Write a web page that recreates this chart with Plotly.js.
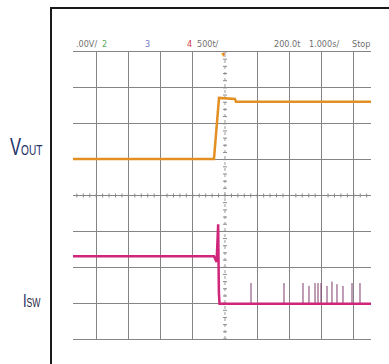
<!DOCTYPE html>
<html>
<head>
<meta charset="utf-8">
<script src="https://cdn.plot.ly/plotly-3.0.1.min.js"></script>
<style>
  html, body { margin: 0; padding: 0; background: #fff; }
  #wrap { position: relative; width: 389px; height: 364px; overflow: hidden; }
  #chart { position: absolute; left: 0; top: 0; width: 389px; height: 364px; }
  #frame { position: absolute; left: 50px; top: 7px; width: 400px; height: 400px;
           border-left: 2px solid #1a1a1a; border-top: 2px solid #1a1a1a; pointer-events: none; }
  .lbl { position: absolute; font-family: 'Liberation Sans', Arial, sans-serif; color: #22306a;
         transform: scaleX(0.72); transform-origin: left bottom; white-space: nowrap; line-height: 1; }
</style>
</head>
<body>
<div id="wrap">
  <div id="chart"></div>
  <div id="frame"></div>
  <div class="lbl" style="left:10px; top:136px; font-size:23px;">V<span style="font-size:14px">OUT</span></div>
  <div class="lbl" style="left:23px; top:292px; font-size:18px;">I<span style="font-size:12px; color:#1e2440">SW</span></div>
</div>
<script>
// ---- data (time in µs at 500 ns/div, amplitude in screen divisions) ----
const voutT   = [-2.36, -0.171, -0.093, 0.155, 0.171, 2.27];
const voutDiv = [1.02, 1.02, 2.72, 2.69, 2.61, 2.61];

const iswT    = [-2.36, -0.171, -0.13, -0.106, -0.095, -0.085, 2.27];
const iswDiv  = [-1.69, -1.69, -1.85, -0.80, -2.70, -3.02, -3.02];

const spikeT   = [0.404, 0.916, 1.211, 1.304, 1.398, 1.444, 1.491, 1.584, 1.661, 1.739, 1.832, 1.972, 2.096];
const spikeTop = [-2.44, -2.44, -2.44, -2.52, -2.44, -2.44, -2.44, -2.52, -2.40, -2.47, -2.52, -2.44, -2.44];
const spikeBase = -3.02;

const headerLabels = [".00V/", "2", "3", "4", "500t/", "200.0t", "1.000s/", "Stop"];
const headerColors = ["#707070", "#5aaa5a", "#7777cc", "#d23a4a", "#707070", "#707070", "#707070", "#707070"];
const headerPx     = [74, 100, 143, 185, 195, 272, 307, 350];

const xRange = [-2.36, 2.267];
const yRange = [-4, 4];
const usPerDiv = 0.5;

// ---- build spike trace ----
const sx = [], sy = [];
spikeT.forEach((t, i) => { sx.push(t, t, null); sy.push(spikeBase, spikeTop[i], null); });

const traces = [
  { x: sx, y: sy, mode: 'lines', line: { color: '#7d3a6c', width: 1 }, hoverinfo: 'skip' },
  { x: iswT, y: iswDiv, mode: 'lines', line: { color: '#d0267a', width: 2.5 }, hoverinfo: 'skip' },
  { x: voutT, y: voutDiv, mode: 'lines', line: { color: '#e38f23', width: 2.5 }, hoverinfo: 'skip' }
];

// x grid positions (excluding centre, drawn dotted)
const xTicks = [];
for (let k = -4; k <= 4; k++) if (k !== 0) xTicks.push(k * usPerDiv);

const shapes = [];
shapes.push({ type: 'line', xref: 'x', yref: 'paper', x0: 0, x1: 0, y0: 0, y1: 1,
  line: { color: '#9a9a9a', width: 1, dash: 'dot' }, layer: 'below' });
for (let v = -4; v <= 4.001; v += 0.2) {
  shapes.push({ type: 'line', xref: 'x', yref: 'y', xsizemode: 'pixel', xanchor: 0, x0: -2, x1: 2,
    y0: v, y1: v, line: { color: '#8a8a8a', width: 1 }, layer: 'below' });
}
for (let t = -2.3; t <= 2.27; t += 0.1) {
  shapes.push({ type: 'line', xref: 'x', yref: 'y', ysizemode: 'pixel', yanchor: 0, y0: -2, y1: 2,
    x0: t, x1: t, line: { color: '#8a8a8a', width: 1 }, layer: 'below' });
}

const W = 298, L = 73;
const annotations = headerLabels.map((s, i) => ({
  text: s, xref: 'paper', yref: 'paper', x: (headerPx[i] - L) / W, y: 1.028,
  xanchor: 'left', yanchor: 'middle', showarrow: false,
  font: { family: 'Liberation Sans Narrow, DejaVu Sans Condensed, sans-serif', size: 9, color: headerColors[i] }
}));
annotations.push({ text: '▼', xref: 'x', yref: 'paper', x: -0.02, y: 0.99, showarrow: false,
  xanchor: 'center', yanchor: 'middle', font: { size: 7, color: '#e38f23' } });

const layout = {
  width: 389, height: 364,
  margin: { l: 73, r: 18, t: 52, b: 25, pad: 0 },
  paper_bgcolor: '#ffffff', plot_bgcolor: '#ffffff',
  showlegend: false,
  xaxis: { range: xRange, tickmode: 'array', tickvals: xTicks, showticklabels: false, ticks: '',
    showgrid: true, gridcolor: '#858585', gridwidth: 1, zeroline: false,
    showline: true, mirror: true, linecolor: '#858585', linewidth: 1, fixedrange: true },
  yaxis: { range: yRange, tickmode: 'linear', tick0: 0, dtick: 1, showticklabels: false, ticks: '',
    showgrid: true, gridcolor: '#858585', gridwidth: 1, zeroline: false, showline: false, fixedrange: true },
  shapes: shapes,
  annotations: annotations
};

Plotly.newPlot('chart', traces, layout, { staticPlot: true, displayModeBar: false });
</script>
</body>
</html>
